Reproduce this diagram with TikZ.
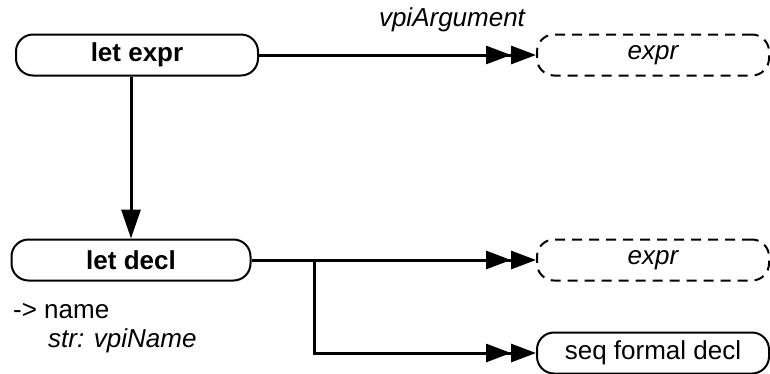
\documentclass[tikz,border=0pt]{standalone}
\usepackage{fontspec}
\setmainfont{Liberation Sans}
\usetikzlibrary{arrows.meta,positioning}

\begin{document}
\begin{tikzpicture}[x=1pt, y=-1pt,
    obj/.style={draw, line width=2pt, rounded corners=17pt, minimum height=41pt,
      minimum width=232pt, inner sep=0pt, font=\fontsize{26}{30}\selectfont},
    ref/.style={obj, dash pattern=on 10pt off 7pt, font=\fontsize{26}{30}\selectfont\itshape},
    wire/.style={line width=3pt},
    dbl/.style={wire, -{Triangle[length=25pt,width=18pt,sep=0pt]Triangle[length=25pt,width=18pt]}},
    down/.style={wire, -{Triangle[length=29pt,width=19pt]}},
    label/.style={font=\fontsize{26}{30}\selectfont, inner sep=0pt}]

\useasboundingbox (0,0) rectangle (770,373);

% Objects on the left
\node[obj, minimum width=242pt, font=\fontsize{26}{30}\selectfont\bfseries] (lexpr) at (137,55) {let expr};
\node[obj, minimum width=239pt, font=\fontsize{26}{30}\selectfont\bfseries] (ldecl) at (131,260) {let decl};

% Referenced objects on the right
\node[ref] (argexpr) at (653,55) {expr};
\node[ref] (declexpr) at (653,260) {expr};
\node[obj] (seqdecl) at (653,353) {seq formal decl};

% Relations
\draw[dbl] (lexpr) -- (argexpr);
\node[label, font=\fontsize{26}{30}\selectfont\itshape, anchor=base] (argname) at (452,26) {vpiArgument};

\draw[down] (lexpr.south -| ldecl.north) -- (ldecl.north);

\draw[dbl] (ldecl) -- (declexpr);
\coordinate (fork) at ([xshift=63pt]ldecl.east);
\draw[dbl] (fork) |- (seqdecl.west);

% Attribute of let decl
\node[label, anchor=base west] (attr) at (13,318) {-> name};
\node[label, font=\fontsize{26}{30}\selectfont\itshape, anchor=base west] (attrtype) at (48,347) {str: vpiName};

\end{tikzpicture}
\end{document}
